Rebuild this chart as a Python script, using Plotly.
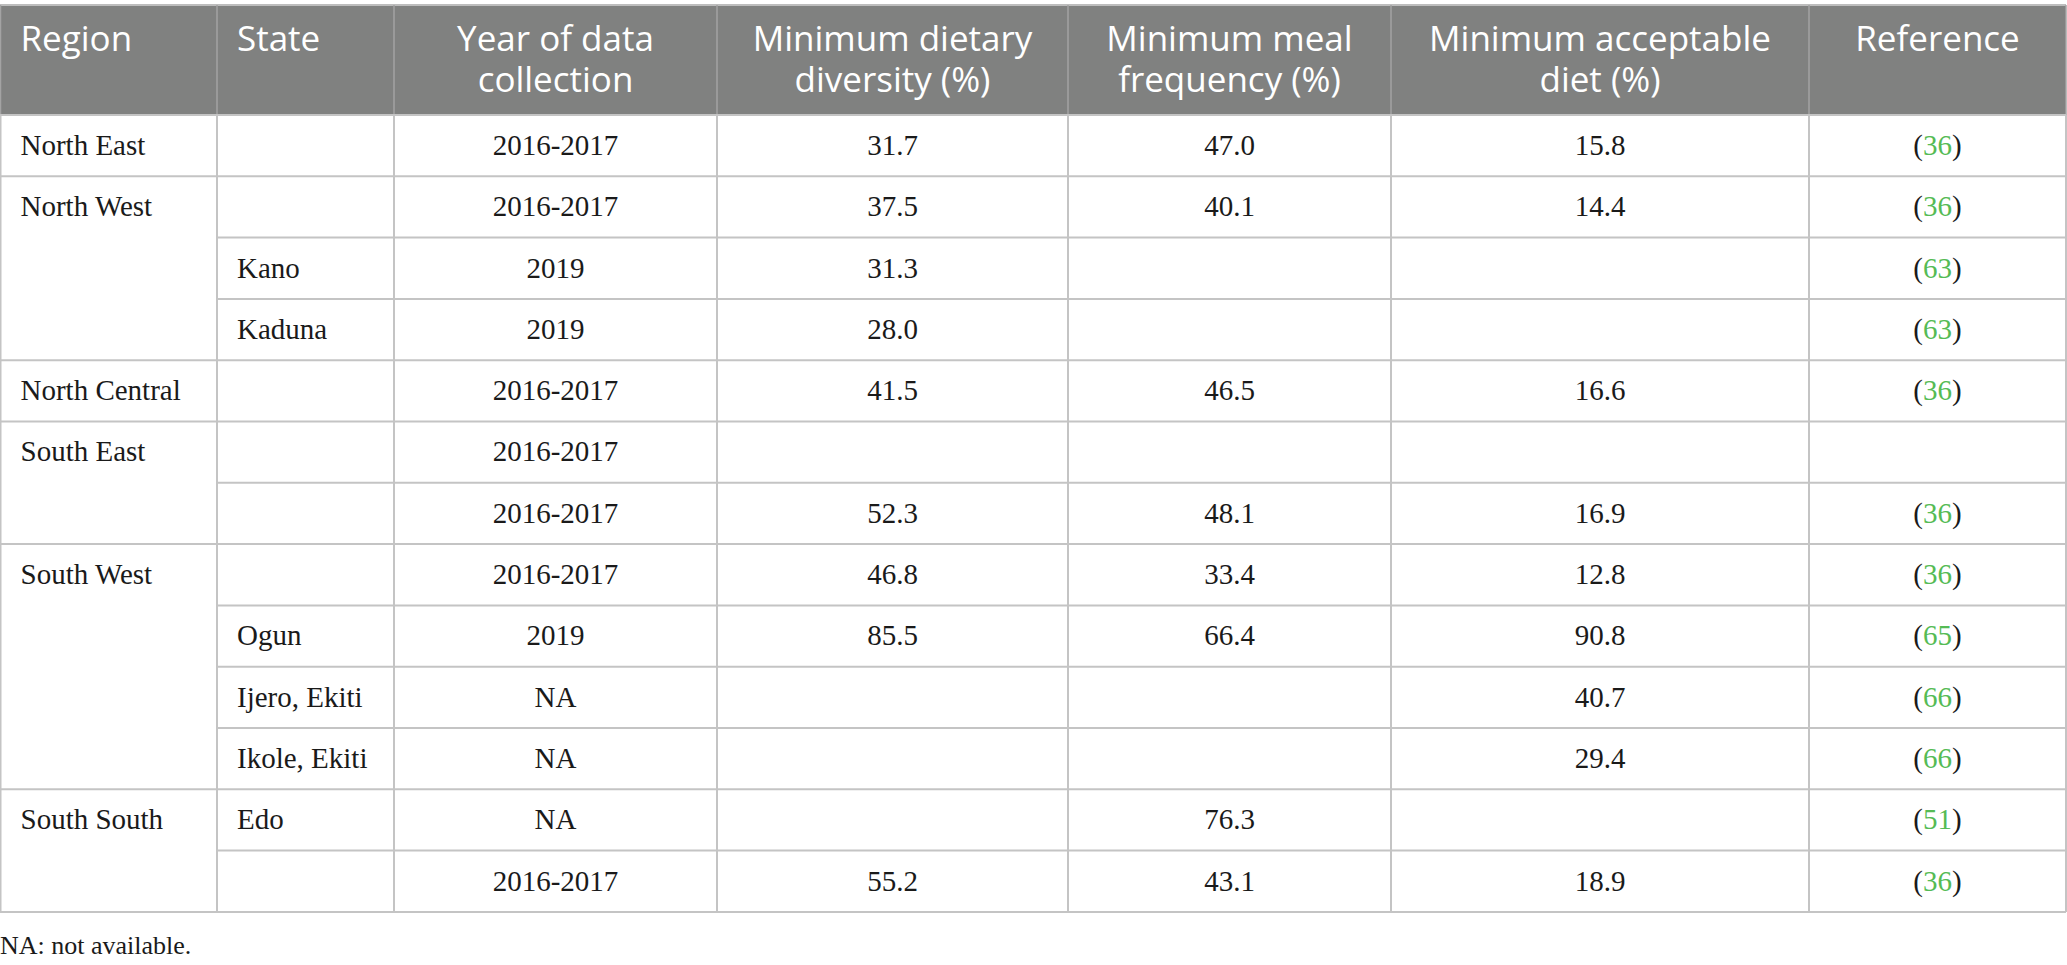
import plotly.graph_objs as go

# table content
headers = ["Region", "State", "Year of data<br>collection", "Minimum dietary<br>diversity (%)",
           "Minimum meal<br>frequency (%)", "Minimum acceptable<br>diet (%)", "Reference"]
regions = ["North East", "North West", "", "", "North Central", "South East", "",
           "South West", "", "", "", "South South", ""]
states = ["", "", "Kano", "Kaduna", "", "", "", "", "Ogun", "Ijero, Ekiti", "Ikole, Ekiti", "Edo", ""]
years = ["2016-2017", "2016-2017", "2019", "2019", "2016-2017", "2016-2017", "2016-2017",
         "2016-2017", "2019", "NA", "NA", "NA", "2016-2017"]
mdd = ["31.7", "37.5", "31.3", "28.0", "41.5", "", "52.3", "46.8", "85.5", "", "", "", "55.2"]
mmf = ["47.0", "40.1", "", "", "46.5", "", "48.1", "33.4", "66.4", "", "", "76.3", "43.1"]
mad = ["15.8", "14.4", "", "", "16.6", "", "16.9", "12.8", "90.8", "40.7", "29.4", "", "18.9"]
refs = ["36", "36", "63", "63", "36", "", "36", "36", "65", "66", "66", "51", "36"]
footnote = "NA: not available."

W, H = 2067, 965
col_edges = [0.5, 217, 394, 717, 1068, 1391, 1809, 2066]
head_top, head_bot = 5, 115
row_h = 61.3
n = len(regions)

HEAD_BG = "#808180"
LINE = "#c4c4c4"
GREEN = "#55bb55"
SERIF = "Liberation Serif"
SANS = "Open Sans"

fig = go.Figure()

shapes = []
# header background
shapes.append(dict(type="rect", x0=0, x1=col_edges[-1], y0=head_top, y1=head_bot,
                   fillcolor=HEAD_BG, line=dict(width=0), layer="below"))
shapes.append(dict(type="line", x0=0, x1=col_edges[-1], y0=head_top, y1=head_top,
                   line=dict(color="#bdbdbd", width=2)))
# vertical lines
for i, x in enumerate(col_edges):
    shapes.append(dict(type="line", x0=x, x1=x, y0=head_top, y1=head_bot,
                       line=dict(color="#a3a3a3", width=1.5)))
    shapes.append(dict(type="line", x0=x, x1=x, y0=head_bot, y1=head_bot + n * row_h,
                       line=dict(color=LINE, width=2)))
# horizontal lines (region column only at group boundaries)
for r in range(n + 1):
    y = head_bot + r * row_h
    if r == 0 or r == n or (r < n and regions[r] != ""):
        x0 = 0
    else:
        x0 = col_edges[1]
    shapes.append(dict(type="line", x0=x0, x1=col_edges[-1], y0=y, y1=y,
                       line=dict(color=LINE, width=2)))

# header text, one trace per line
line_y = [42, 83]
for j, h in enumerate(headers):
    parts = h.split("<br>")
    if j < 2:
        x, pos = col_edges[j] + 20, "middle right"
    else:
        x, pos = (col_edges[j] + col_edges[j + 1]) / 2, "middle center"
    fig.add_trace(go.Scatter(x=[x] * len(parts), y=line_y[:len(parts)], mode="text",
                             text=parts, textposition=pos,
                             textfont=dict(family=SANS, size=35, color="white"),
                             hoverinfo="skip"))

ys = [head_bot + (r + 0.5) * row_h + 2 for r in range(n)]
ref_text = ["(<span style='color:%s'>%s</span>)" % (GREEN, v) if v else "" for v in refs]
columns = [regions, states, years, mdd, mmf, mad, ref_text]
for j, vals in enumerate(columns):
    if j < 2:
        x, pos = col_edges[j] + 20, "middle right"
    else:
        x, pos = (col_edges[j] + col_edges[j + 1]) / 2, "middle center"
    fig.add_trace(go.Scatter(x=[x] * n, y=ys, mode="text", text=vals, textposition=pos,
                             textfont=dict(family=SERIF, size=29, color="#1a1a1a"),
                             hoverinfo="skip"))

fig.add_trace(go.Scatter(x=[0], y=[947], mode="text", text=[footnote],
                         textposition="middle right",
                         textfont=dict(family=SERIF, size=26, color="#1a1a1a"),
                         hoverinfo="skip"))

fig.update_layout(width=W, height=H, margin=dict(l=0, r=0, t=0, b=0),
                  paper_bgcolor="white", plot_bgcolor="white", showlegend=False,
                  shapes=shapes,
                  xaxis=dict(range=[0, W], visible=False, fixedrange=True),
                  yaxis=dict(range=[H, 0], visible=False, fixedrange=True))
fig.write_html("out.html", config=dict(displayModeBar=False),
               post_script="document.body.style.margin='0px';document.body.style.overflow='hidden';")
